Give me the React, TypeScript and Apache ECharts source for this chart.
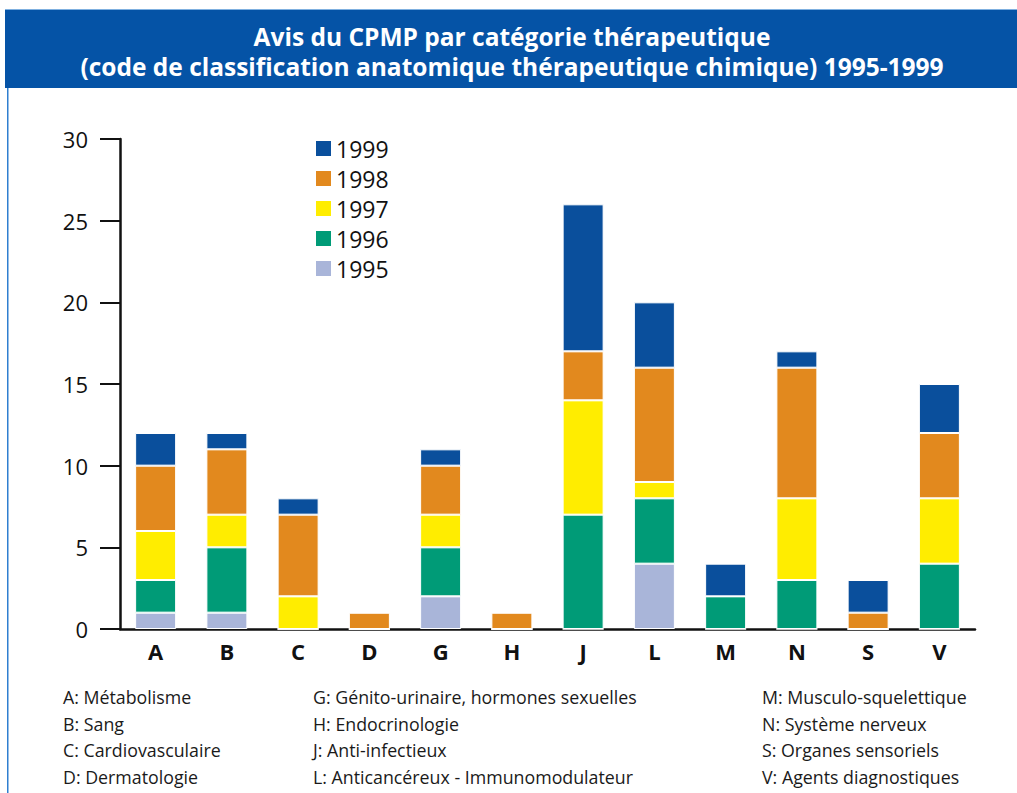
import React, { useEffect, useRef } from "react";
import * as echarts from "echarts";

const categories = ["A", "B", "C", "D", "G", "H", "J", "L", "M", "N", "S", "V"];
const years = ["1995", "1996", "1997", "1998", "1999"];
const v1995 = [1, 1, 0, 0, 2, 0, 0, 4, 0, 0, 0, 0];
const v1996 = [2, 4, 0, 0, 3, 0, 7, 4, 2, 3, 0, 4];
const v1997 = [3, 2, 2, 0, 2, 0, 7, 1, 0, 5, 0, 4];
const v1998 = [4, 4, 5, 1, 3, 1, 3, 7, 0, 8, 1, 4];
const v1999 = [2, 1, 1, 0, 1, 0, 9, 4, 2, 1, 2, 3];
const yearValues = [v1995, v1996, v1997, v1998, v1999];
const yearColors = ["#a9b5d9", "#009b77", "#ffed00", "#e2891e", "#0a4f9c"];
const yTicks = { min: 0, max: 30, interval: 5 };

const titleLines = [
  "Avis du CPMP par catégorie thérapeutique",
  "(code de classification anatomique thérapeutique chimique) 1995-1999",
];
const footCol1 = ["A: Métabolisme", "B: Sang", "C: Cardiovasculaire", "D: Dermatologie"];
const footCol2 = [
  "G: Génito-urinaire, hormones sexuelles",
  "H: Endocrinologie",
  "J: Anti-infectieux",
  "L: Anticancéreux - Immunomodulateur",
];
const footCol3 = [
  "M: Musculo-squelettique",
  "N: Système nerveux",
  "S: Organes sensoriels",
  "V: Agents diagnostiques",
];

const FONT = "'Open Sans', 'Noto Sans', sans-serif";

export default function App() {
  const ref = useRef<HTMLDivElement>(null);
  useEffect(() => {
    if (!ref.current) return;
    const chart = echarts.init(ref.current, null, { renderer: "svg" });
    const footGraphics: any[] = [];
    const cols = [
      { x: 63, items: footCol1 },
      { x: 313, items: footCol2 },
      { x: 762, items: footCol3 },
    ];
    cols.forEach((c) =>
      c.items.forEach((t, i) =>
        footGraphics.push({
          type: "text",
          x: c.x,
          y: 697 + i * 26.7,
          style: {
            text: t,
            fill: "#1a1a1a",
            font: `17.8px ${FONT}`,
            textVerticalAlign: "middle",
          },
        })
      )
    );
    chart.setOption({
      animation: false,
      backgroundColor: "#ffffff",
      grid: { left: 120, right: 42, top: 139, bottom: 164 },
      legend: {
        orient: "vertical",
        left: 311,
        top: 132,
        data: ["1999", "1998", "1997", "1996", "1995"],
        icon: "rect",
        itemWidth: 15,
        itemHeight: 15,
        itemGap: 7,
        itemStyle: { borderWidth: 0 },
        textStyle: { fontSize: 23, fontFamily: FONT, color: "#111", lineHeight: 22, padding: [0, 0, 0, 0] },
        selectedMode: false,
      },
      xAxis: {
        type: "category",
        data: categories,
        axisLine: { lineStyle: { color: "#111", width: 2.5 } },
        axisTick: { inside: true, length: 12, lineStyle: { color: "#111", width: 2 } },
        axisLabel: { fontSize: 22, fontWeight: "bold", fontFamily: FONT, color: "#111", margin: 11 },
      },
      yAxis: {
        type: "value",
        min: yTicks.min,
        max: yTicks.max,
        interval: yTicks.interval,
        axisLine: { show: true, lineStyle: { color: "#111", width: 2.5 } },
        axisTick: { show: true, length: 20, lineStyle: { color: "#111", width: 2 } },
        axisLabel: { fontSize: 22, fontFamily: FONT, color: "#111", margin: 32 },
        splitLine: { show: false },
      },
      series: years.map((y, i) => ({
        name: y,
        type: "bar",
        stack: "total",
        data: yearValues[i],
        barWidth: 41,
        itemStyle: { color: yearColors[i], borderColor: "#ffffff", borderWidth: 1 },
      })),
      graphic: [
        { type: "rect", shape: { x: 5, y: 9, width: 1012, height: 1 }, style: { fill: "#7fb0e0" } },
        { type: "rect", shape: { x: 5, y: 10, width: 1012, height: 78 }, style: { fill: "#0553a6" } },
        { type: "rect", shape: { x: 7, y: 88, width: 1.5, height: 705 }, style: { fill: "#2f7fd0" } },
        ...titleLines.map((t, i) => ({
          type: "text",
          x: 512,
          y: 36 + i * 30,
          style: {
            text: t,
            fill: "#ffffff",
            font: `bold 24.5px ${FONT}`,
            textAlign: "center",
            textVerticalAlign: "middle",
          },
        })),
        ...footGraphics,
      ],
    });
    return () => chart.dispose();
  }, []);
  return (
    <div
      ref={ref}
      style={{ position: "fixed", left: 0, top: 0, width: 1017, height: 793 }}
    />
  );
}
